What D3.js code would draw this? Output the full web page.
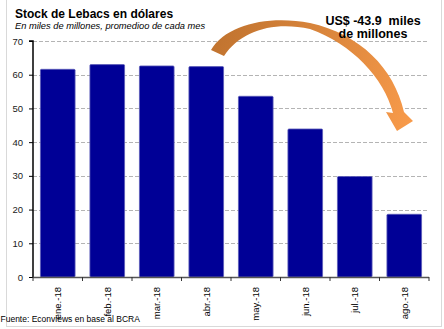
<!DOCTYPE html>
<html><head><meta charset="utf-8">
<script src="https://cdn.jsdelivr.net/npm/d3@7"></script>
<style>html,body{margin:0;padding:0;background:#fff;overflow:hidden}</style>
</head><body>
<svg id="c" width="444" height="329"></svg>
<script>
const categories = ["ene.-18","feb.-18","mar.-18","abr.-18","may.-18","jun.-18","jul.-18","ago.-18"];
const values = [61.6, 63.0, 62.6, 62.4, 53.6, 43.9, 29.8, 18.6];
const yTicks = [0,10,20,30,40,50,60,70];
const title = "Stock de Lebacs en dólares";
const subtitle = "En miles de millones, promedioo de cada mes";
const source = "Fuente: Econviews en base al BCRA";
const annot = ["US$ -43.9  miles", "de millones"];

(function(){
const svg = d3.select("#c");
const font = "'Liberation Sans', Arial, sans-serif";
const pl = 33, pr = 429, pt = 41, pb = 277;

svg.append("rect").attr("x",6.5).attr("y",-5).attr("width",435).attr("height",331.5)
  .attr("fill","none").attr("stroke","#d9d9d9").attr("stroke-width",1);

const x = d3.scaleBand().domain(categories).range([pl,pr]).paddingInner(0.3).paddingOuter(0.15);
const y = d3.scaleLinear().domain([0,70]).range([pb,pt]);

svg.append("g").selectAll("line").data(yTicks.filter(d=>d>0)).join("line")
  .attr("x1",pl).attr("x2",pr).attr("y1",d=>Math.round(y(d))+0.5).attr("y2",d=>Math.round(y(d))+0.5)
  .attr("stroke","#b4b4b4").attr("stroke-width",1).attr("stroke-dasharray","4,2");

svg.append("g").selectAll("rect").data(values).join("rect")
  .attr("x",(d,i)=>x(categories[i])).attr("width",x.bandwidth())
  .attr("y",d=>y(d)).attr("height",d=>y(0)-y(d))
  .attr("rx",1).attr("fill","#000096").attr("stroke","#5a5ab8").attr("stroke-width",0.8);

const yAxis = d3.axisLeft(y).tickValues(yTicks).tickSize(4).tickPadding(6);
const gy = svg.append("g").attr("transform",`translate(${pl},0)`).call(yAxis);
gy.select(".domain").attr("stroke","#000").attr("stroke-width",1.5).attr("d",`M-4,${pt}H0V${pb}`);
gy.selectAll(".tick line").attr("stroke","#000");
gy.selectAll("text").attr("font-family",font).attr("font-size","9.5px").attr("fill","#1a1a1a");

const bounds = categories.map((c,i)=>pl + i*(pr-pl)/categories.length).concat([pr]);
svg.append("line").attr("x1",pl).attr("x2",pr).attr("y1",pb+0.5).attr("y2",pb+0.5)
  .attr("stroke","#555").attr("stroke-width",1.5);
svg.append("g").selectAll("line").data(bounds).join("line")
  .attr("x1",d=>d).attr("x2",d=>d).attr("y1",pb).attr("y2",pb+4)
  .attr("stroke","#333").attr("stroke-width",1);
svg.append("g").selectAll("text").data(categories).join("text")
  .attr("transform",d=>`translate(${x(d)+x.bandwidth()/2+3.5},${pb+10}) rotate(-90)`)
  .attr("text-anchor","end").attr("font-family",font).attr("font-size","9.5px").attr("fill","#000")
  .text(d=>d);

svg.append("text").attr("x",15).attr("y",18).attr("font-family",font).attr("font-weight","bold")
  .attr("font-size","12px").attr("fill","#000").text(title);
svg.append("text").attr("x",15).attr("y",29).attr("font-family",font).attr("font-style","italic")
  .attr("font-size","9.3px").attr("fill","#000").text(subtitle);
svg.append("text").attr("x",0.5).attr("y",322).attr("font-family",font)
  .attr("font-size","8.5px").attr("fill","#000").text(source);

const defs = svg.append("defs");
const grad = defs.append("linearGradient").attr("id","ag").attr("gradientUnits","userSpaceOnUse")
  .attr("x1",211).attr("y1",40).attr("x2",410).attr("y2",120);
grad.append("stop").attr("offset","0").attr("stop-color","#c0732f");
grad.append("stop").attr("offset","1").attr("stop-color","#f79a4a");
const p = d3.path();
p.moveTo(211,50);
p.bezierCurveTo(226,24,270,15,310,23);
p.bezierCurveTo(360,34,394,68,404,112);
p.lineTo(413,121);
p.lineTo(397,131);
p.lineTo(386,112);
p.lineTo(393,113);
p.bezierCurveTo(384,78,352,44,310,29);
p.bezierCurveTo(275,21,241,30,224,56);
p.closePath();
svg.append("path").attr("d",p.toString()).attr("fill","url(#ag)");

svg.append("g").selectAll("text").data(annot).join("text")
  .attr("x",373).attr("y",(d,i)=>25+i*12.5)
  .attr("text-anchor","middle").attr("font-family",font).attr("font-weight","bold")
  .attr("font-size","12.5px").attr("fill","#000").style("white-space","pre")
  .text(d=>d);
})();
</script>
</body></html>
